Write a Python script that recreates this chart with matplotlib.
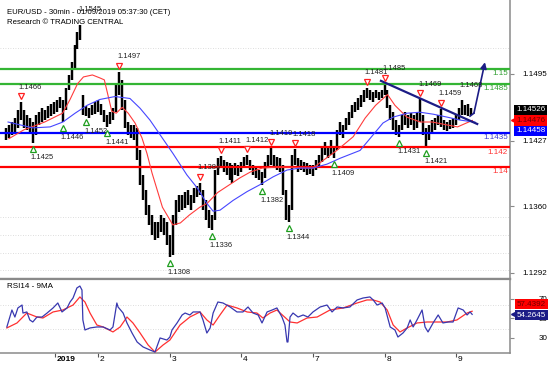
import numpy as np
import matplotlib.pyplot as plt
from matplotlib.transforms import ScaledTranslation, blended_transform_factory

plt.rcParams['font.family'] = ['Liberation Sans', 'DejaVu Sans']

# hourly EUR/USD bars (index = hour from the left edge)
bar_high = [1.1440, 1.1443, 1.1446, 1.1450, 1.1458, 1.1466, 1.1458, 1.1453, 1.1450, 1.1446,
            1.1453, 1.1456, 1.1460, 1.1458, 1.1462, 1.1464, 1.1466, 1.1468, 1.1472, 1.1468,
            1.1481, 1.1494, 1.1507, 1.1525, 1.1538, 1.1545, 1.1474, 1.1462, 1.1460, 1.1463,
            1.1466, 1.1468, 1.1464, 1.1458, 1.1453, 1.1456, 1.1460, 1.1484, 1.1497, 1.1489,
            1.1468, 1.1446, 1.1443, 1.1443, 1.1440, 1.1417, 1.1392, 1.1377, 1.1361, 1.1351,
            1.1344, 1.1344, 1.1351, 1.1348, 1.1344, 1.1331, 1.1351, 1.1366, 1.1372, 1.1372,
            1.1375, 1.1377, 1.1372, 1.1379, 1.1381, 1.1384, 1.1377, 1.1366, 1.1356, 1.1351,
            1.1397, 1.1409, 1.1411, 1.1407, 1.1405, 1.1404, 1.1402, 1.1404, 1.1402, 1.1405,
            1.1410, 1.1412, 1.1407, 1.1402, 1.1399, 1.1397, 1.1395, 1.1405, 1.1412, 1.1419,
            1.1412, 1.1410, 1.1409, 1.1402, 1.1377, 1.1361, 1.1412, 1.1418, 1.1409, 1.1407,
            1.1405, 1.1404, 1.1402, 1.1402, 1.1407, 1.1412, 1.1419, 1.1426, 1.1422, 1.1428,
            1.1419, 1.1438, 1.1446, 1.1443, 1.1450, 1.1456, 1.1463, 1.1466, 1.1470, 1.1474,
            1.1479, 1.1481, 1.1479, 1.1477, 1.1479, 1.1477, 1.1479, 1.1485, 1.1479, 1.1463,
            1.1456, 1.1448, 1.1443, 1.1453, 1.1456, 1.1453, 1.1455, 1.1453, 1.1456, 1.1469,
            1.1453, 1.1440, 1.1443, 1.1448, 1.1450, 1.1453, 1.1459, 1.1448, 1.1446, 1.1448,
            1.1450, 1.1453, 1.1460, 1.1468, 1.1463, 1.1464, 1.1460]
bar_low = [1.1428, 1.1430, 1.1433, 1.1436, 1.1440, 1.1448, 1.1440, 1.1438, 1.1435, 1.1425,
           1.1433, 1.1443, 1.1446, 1.1448, 1.1450, 1.1452, 1.1454, 1.1456, 1.1460, 1.1446,
           1.1458, 1.1479, 1.1489, 1.1501, 1.1520, 1.1530, 1.1453, 1.1452, 1.1450, 1.1453,
           1.1454, 1.1456, 1.1453, 1.1446, 1.1441, 1.1444, 1.1448, 1.1456, 1.1474, 1.1458,
           1.1440, 1.1433, 1.1430, 1.1428, 1.1407, 1.1382, 1.1366, 1.1351, 1.1341, 1.1331,
           1.1326, 1.1328, 1.1334, 1.1331, 1.1320, 1.1308, 1.1310, 1.1341, 1.1354, 1.1356,
           1.1358, 1.1361, 1.1356, 1.1363, 1.1369, 1.1372, 1.1356, 1.1346, 1.1338, 1.1336,
           1.1346, 1.1392, 1.1399, 1.1395, 1.1392, 1.1387, 1.1384, 1.1392, 1.1391, 1.1395,
           1.1399, 1.1402, 1.1397, 1.1392, 1.1389, 1.1387, 1.1382, 1.1389, 1.1399, 1.1402,
           1.1400, 1.1397, 1.1395, 1.1372, 1.1346, 1.1344, 1.1356, 1.1402, 1.1395, 1.1397,
           1.1395, 1.1392, 1.1393, 1.1391, 1.1397, 1.1399, 1.1405, 1.1412, 1.1409, 1.1412,
           1.1409, 1.1417, 1.1433, 1.1430, 1.1438, 1.1443, 1.1450, 1.1456, 1.1458, 1.1461,
           1.1466, 1.1470, 1.1468, 1.1466, 1.1470, 1.1468, 1.1470, 1.1474, 1.1460, 1.1448,
           1.1438, 1.1433, 1.1431, 1.1438, 1.1443, 1.1440, 1.1443, 1.1438, 1.1440, 1.1446,
           1.1433, 1.1421, 1.1428, 1.1435, 1.1438, 1.1443, 1.1441, 1.1438, 1.1437, 1.1439,
           1.1440, 1.1443, 1.1448, 1.1453, 1.1453, 1.1452, 1.1453]
last_close = 1.14526

red_ma_x = [1, 6, 13, 19, 21.5, 24, 26, 29, 31.5, 33, 35.5, 37, 39, 41, 43.3, 45.6, 47.3, 49,
            52.5, 56, 58.5, 61.5, 65, 67.5, 71, 75, 78.5, 82, 86, 91, 95, 100, 103, 106.5, 111,
            116.5, 120.5, 124, 128, 130.5, 134.5, 139, 143, 148, 151.5, 154.5, 156.5]
red_ma_y = [1.1429, 1.1438, 1.1446, 1.1455, 1.1469, 1.1485, 1.1492, 1.1494, 1.1491, 1.1489,
            1.1457, 1.1455, 1.1461, 1.1455, 1.1445, 1.1430, 1.1414, 1.1394, 1.1359, 1.1341,
            1.1343, 1.1351, 1.1359, 1.1363, 1.1374, 1.1382, 1.1389, 1.1395, 1.1399, 1.1400,
            1.1400, 1.1399, 1.1399, 1.1407, 1.1417, 1.1431, 1.1450, 1.1463, 1.1474, 1.1463,
            1.1451, 1.1446, 1.1446, 1.1443, 1.1441, 1.1445, 1.14476]
blue_ma_x = [0.7, 9, 14.8, 19.1, 23.2, 27.2, 31.5, 36.6, 41.6, 45, 48.3, 51.7, 56, 60.7, 64.1,
             67.4, 69.5, 71.8, 76.2, 80.9, 85.2, 89.6, 94.3, 98.7, 103, 107.7, 112.1, 118.8,
             123.2, 126.5, 129.9, 134.6, 138.9, 143.3, 148, 152.3, 157.4]
blue_ma_y = [1.1446, 1.1440, 1.1441, 1.1446, 1.1455, 1.1463, 1.1469, 1.1472, 1.1470, 1.1460,
             1.1448, 1.1433, 1.1414, 1.1392, 1.1379, 1.1363, 1.1355, 1.1356, 1.1366, 1.1375,
             1.1382, 1.1390, 1.1397, 1.1399, 1.1399, 1.1403, 1.1409, 1.1417, 1.1433, 1.1445,
             1.1451, 1.1455, 1.1456, 1.1454, 1.1451, 1.1448, 1.14458]

rsi_x = [0.3, 2, 3, 4, 5.4, 5.7, 7, 8, 9, 10.4, 12.1, 13.8, 15.8, 17.4, 18.8, 20.5, 21.5, 22.5,
         23.8, 24.8, 25.5, 25.8, 26.5, 28.2, 30.5, 32.6, 34.9, 35.9, 37.2, 37.6, 39.3, 40.6,
         42.3, 44, 46, 48.3, 50, 51.7, 54, 55, 55.7, 57.4, 59.1, 60.1, 61.7, 62.8, 65.1, 66.1,
         67.4, 68.5, 69.5, 71.1, 72.8, 75.2, 77.5, 79.5, 81.2, 82.9, 84.6, 85.9, 87.6, 89.3,
         90.9, 92.6, 93.6, 94.3, 94.6, 95.3, 96.3, 98, 99.7, 101.3, 103, 105.4, 107.7, 109.4,
         111.1, 113.1, 115.4, 117.8, 119.8, 122.1, 123.2, 124.5, 126.2, 127.2, 128.9, 130.5,
         131.5, 133.2, 134.6, 135.6, 136.6, 137.9, 139.6, 140.6, 141.6, 143.3, 145, 146.6,
         148.3, 150, 151.7, 153.4, 154.7, 155.7, 156.4]
rsi_y = [41.3, 58.7, 51.5, 60.8, 63.8, 55.6, 56.7, 48.5, 46.4, 51.5, 51.5, 55.6, 60.8, 65.9,
         56.7, 60.8, 66.9, 71.0, 81.3, 83.3, 79.2, 48.5, 38.2, 40.3, 41.3, 41.3, 38.2, 41.3,
         65.9, 61.8, 55.6, 45.4, 35.1, 25.9, 20.8, 17.7, 15.6, 30.0, 27.9, 31.0, 38.2, 45.4,
         53.6, 55.6, 53.6, 56.7, 56.7, 48.5, 35.1, 40.3, 55.6, 66.9, 65.9, 61.8, 56.7, 56.7,
         61.8, 55.6, 53.6, 45.4, 56.7, 58.7, 60.8, 51.5, 43.3, 25.9, 25.9, 51.5, 55.6, 51.5,
         53.6, 51.5, 56.7, 61.8, 63.8, 56.7, 61.8, 60.8, 61.8, 69.0, 71.0, 72.1, 69.0, 63.8,
         65.9, 60.8, 41.3, 38.2, 31.0, 35.1, 40.3, 48.5, 41.3, 48.5, 58.7, 41.3, 36.2, 45.4,
         53.6, 45.4, 46.4, 46.4, 60.8, 58.7, 53.6, 56.7, 54.2645]
rsi_ma_x = [0.3, 3.7, 7, 10.4, 12.4, 15.8, 19.1, 22.5, 24.8, 26.5, 28.2, 30.5, 32.6, 35.9, 38.3,
            40.6, 42.6, 45, 47.7, 50, 52.7, 55, 58.4, 61.7, 65.1, 67.4, 69.5, 71.8, 74.2, 77.5,
            80.9, 84.2, 86.2, 88.6, 90.9, 92, 95.3, 97.7, 101, 104.4, 108.7, 113.1, 117.8,
            121.1, 123.2, 125.5, 127.9, 129.9, 132.2, 134.6, 137.9, 141.3, 144.6, 148, 151.3,
            154.7, 156.4]
rsi_ma_y = [40.3, 45.4, 55.6, 51.5, 50.5, 56.7, 58.7, 63.8, 72.1, 66.9, 55.6, 43.3, 41.3, 36.2,
            41.3, 51.5, 45.4, 35.1, 22.8, 15.6, 22.8, 27.9, 43.3, 51.5, 56.7, 48.5, 43.3, 53.6,
            63.8, 60.8, 56.7, 55.6, 50.5, 55.6, 58.7, 55.6, 46.4, 45.4, 50.5, 51.5, 58.7, 60.8,
            65.9, 69.0, 69.0, 66.9, 58.7, 43.3, 36.2, 40.3, 45.4, 46.4, 46.4, 46.4, 48.5, 55.6,
            57.4392]

# support / resistance levels
green_levels = [1.1500, 1.1485]
green_labels = ['1.15', '1.1485']
blue_levels = [1.1435]
blue_labels = ['1.1435']
red_levels = [1.1420, 1.1400]
red_labels = ['1.142', '1.14']
grid_levels = [1.1522, 1.1349, 1.1331, 1.1312, 1.1295]
rsi_grid = [63.8, 39.2]

# swing highs / lows (bar index)
swing_tops = [5, 25, 38, 65, 72, 81, 89, 97, 121, 127, 139, 146, 153]
swing_bottoms = [9, 19, 27, 34, 55, 69, 86, 95, 110, 132, 141]
no_marker = [25, 153]

trend_x = [125.8, 158.1]
trend_y = [1.1488, 1.1444]
arrow_x = [155.7, 157.0, 160.7]
arrow_y = [1.1452, 1.1455, 1.1507]

day_ticks = [16.5, 31, 55, 79, 103, 127, 151]
day_labels = ['2019', '2', '3', '4', '7', '8', '9']
price_ticks = [1.1495, 1.1427, 1.1360, 1.1292]
rsi_ticks = [70, 50, 30]

W, H = 554, 369
gray = '#8a8a8a'
navy = '#1c1c86'
green = '#34b534'

fig = plt.figure(figsize=(W / 100, H / 100), dpi=100)
ax = fig.add_axes([0, 1 - 279 / H, 510 / W, 279 / H])
ax2 = fig.add_axes([0, 1 - 353 / H, 510 / W, 74 / H], sharex=ax)

hours = np.arange(len(bar_high))
ax.vlines(hours, bar_low, bar_high, color='black', lw=1.75, zorder=2)

for g in grid_levels:
    ax.axhline(g, color='#d2d2d2', lw=0.6, ls=(0, (1, 2)), zorder=1)
for lv, lb in zip(green_levels, green_labels):
    ax.axhline(lv, color=green, lw=1.6, zorder=3)
    ax.annotate(lb, xy=(1, lv), xycoords=('axes fraction', 'data'), xytext=(-1.5, -0.8),
                textcoords='offset points', ha='right', va='top', color='#2e9e2e', fontsize=5.8)
for lv, lb in zip(blue_levels, blue_labels):
    ax.axhline(lv, color='#0000ff', lw=1.6, zorder=3)
    ax.annotate(lb, xy=(1, lv), xycoords=('axes fraction', 'data'), xytext=(-1.5, -0.8),
                textcoords='offset points', ha='right', va='top', color='#3a3ad0', fontsize=5.8)
for lv, lb in zip(red_levels, red_labels):
    ax.axhline(lv, color='#ff0000', lw=1.6, zorder=3)
    ax.annotate(lb, xy=(1, lv), xycoords=('axes fraction', 'data'), xytext=(-1.5, -0.8),
                textcoords='offset points', ha='right', va='top', color='#ff3030', fontsize=5.8)

ax.plot(red_ma_x, red_ma_y, color='#ff3c3c', lw=0.8, zorder=4)
ax.plot(blue_ma_x, blue_ma_y, color='#4646ff', lw=0.8, zorder=4)

ax.plot(trend_x, trend_y, color=navy, lw=1.6, zorder=5)
ax.plot(arrow_x[:2], arrow_y[:2], color=navy, lw=1.2, zorder=5)
ax.annotate('', xy=(arrow_x[2], arrow_y[2]), xytext=(arrow_x[1], arrow_y[1]),
            arrowprops=dict(arrowstyle='-|>', color=navy, lw=1.2, mutation_scale=9,
                            shrinkA=0, shrinkB=0), zorder=5)

up = ax.transData + ScaledTranslation(0, 0.06, fig.dpi_scale_trans)
down = ax.transData + ScaledTranslation(0, -0.06, fig.dpi_scale_trans)
for i in swing_tops:
    if i not in no_marker:
        ax.plot(i, bar_high[i], marker='v', ms=4.6, mfc='white', mec='#ff2020', mew=0.9,
                transform=up, zorder=6, clip_on=False)
    ax.annotate(f'{bar_high[i]:.4f}', xy=(i, bar_high[i]), xytext=(-1.6, 11),
                textcoords='offset points', ha='left', va='center', fontsize=5.4,
                color='#202020', zorder=6)
for i in swing_bottoms:
    ax.plot(i, bar_low[i], marker='^', ms=4.6, mfc='white', mec='#1e9e1e', mew=0.9,
            transform=down, zorder=6, clip_on=False)
    ax.annotate(f'{bar_low[i]:.4f}', xy=(i, bar_low[i]), xytext=(-1.6, -11),
                textcoords='offset points', ha='left', va='center', fontsize=5.4,
                color='#202020', zorder=6)

ax.set_xlim(-2.0, 169.1)
ax.set_ylim(1.12858, 1.15705)

# right-hand price axis
ax.yaxis.tick_right()
ax.set_yticks(price_ticks)
ax.set_yticklabels([f'{t:.4f}' for t in price_ticks])
ax.tick_params(axis='y', length=3, width=0.8, color=gray, pad=24, labelsize=5.8)
for t in ax.get_yticklabels():
    t.set_ha('right')
ax.tick_params(axis='x', bottom=False, labelbottom=False)
for s in ['left', 'top']:
    ax.spines[s].set_visible(False)
ax.spines['right'].set_color(gray)
ax.spines['right'].set_linewidth(1.1)
ax.spines['bottom'].set_color(gray)
ax.spines['bottom'].set_linewidth(1.6)

# last-value boxes
bt = blended_transform_factory(ax.transAxes, ax.transData)
ax.annotate(f'{last_close:.5f}', xy=(1, last_close), xycoords=('axes fraction', 'data'),
            xytext=(4.3, 4), textcoords='offset points', ha='left', va='center',
            color='white', fontsize=5.8, annotation_clip=False, zorder=8,
            bbox=dict(boxstyle='square,pad=0.2', fc='black', ec='none'))
ax.plot(1.0069, red_ma_y[-1], marker='<', ms=5, color='#ff0000', transform=bt,
        clip_on=False, zorder=8)
ax.annotate(f'{red_ma_y[-1]:.5f}', xy=(1, red_ma_y[-1]), xycoords=('axes fraction', 'data'),
            xytext=(4.3, 0), textcoords='offset points', ha='left', va='center',
            color='#700000', fontsize=5.8, annotation_clip=False, zorder=8,
            bbox=dict(boxstyle='square,pad=0.2', fc='#ff0000', ec='none'))
ax.annotate(f'{blue_ma_y[-1]:.5f}', xy=(1, blue_ma_y[-1]), xycoords=('axes fraction', 'data'),
            xytext=(4.3, -6.3), textcoords='offset points', ha='left', va='center',
            color='white', fontsize=5.8, annotation_clip=False, zorder=8,
            bbox=dict(boxstyle='square,pad=0.2', fc='#0000ff', ec='none'))

# RSI panel
for g in rsi_grid:
    ax2.axhline(g, color='#d2d2d2', lw=0.6, ls=(0, (1, 2)), zorder=1)
ax2.plot(rsi_ma_x, rsi_ma_y, color='#ff3030', lw=0.9, zorder=3)
ax2.plot(rsi_x, rsi_y, color='#3838b0', lw=0.9, zorder=4)
ax2.set_ylim(14.6, 90.5)
ax2.text(0.013, 0.9, 'RSI14 - 9MA', transform=ax2.transAxes, fontsize=5.8, va='center')

ax2.yaxis.tick_right()
ax2.set_yticks(rsi_ticks)
ax2.set_yticklabels([str(t) for t in rsi_ticks])
ax2.tick_params(axis='y', length=3, width=0.8, color=gray, pad=24, labelsize=5.8)
for t in ax2.get_yticklabels():
    t.set_ha('right')
ax2.set_xticks(day_ticks)
ax2.tick_params(axis='x', length=3, width=0.8, color='#555555', labelbottom=False)
for pos, lb in zip(day_ticks, day_labels):
    ax2.annotate(lb, xy=(pos, 0), xycoords=ax2.get_xaxis_transform(), xytext=(1.2, -2),
                 textcoords='offset points', ha='left', va='top', fontsize=6,
                 fontweight='bold' if lb == '2019' else 'normal', annotation_clip=False)
ax2.spines['left'].set_visible(False)
for s in ['top', 'right', 'bottom']:
    ax2.spines[s].set_color(gray)
ax2.spines['top'].set_linewidth(1.6)
ax2.spines['right'].set_linewidth(1.1)
ax2.spines['bottom'].set_linewidth(1.1)

bt2 = blended_transform_factory(ax2.transAxes, ax2.transData)
ax2.annotate(f'{rsi_ma_y[-1]:.4f}', xy=(1, rsi_ma_y[-1]), xycoords=('axes fraction', 'data'),
             xytext=(5, 5), textcoords='offset points', ha='left', va='center',
             color='#700000', fontsize=5.8, annotation_clip=False, zorder=8,
             bbox=dict(boxstyle='square,pad=0.2', fc='#ff0000', ec='none'))
ax2.plot(1.0069, rsi_y[-1], marker='<', ms=5, color=navy, transform=bt2,
         clip_on=False, zorder=8)
ax2.annotate(f'{rsi_y[-1]:.4f}', xy=(1, rsi_y[-1]), xycoords=('axes fraction', 'data'),
             xytext=(5, -0.5), textcoords='offset points', ha='left', va='center',
             color='white', fontsize=5.8, annotation_clip=False, zorder=8,
             bbox=dict(boxstyle='square,pad=0.2', fc=navy, ec='none'))

fig.text(7 / W, 1 - 13 / H, 'EUR/USD - 30min - 01/09/2019 05:37:30 (CET)', fontsize=5.6,
         va='center')
fig.text(7 / W, 1 - 22 / H, 'Research © TRADING CENTRAL', fontsize=5.6, va='center')

fig.savefig('out.png', dpi=100)
